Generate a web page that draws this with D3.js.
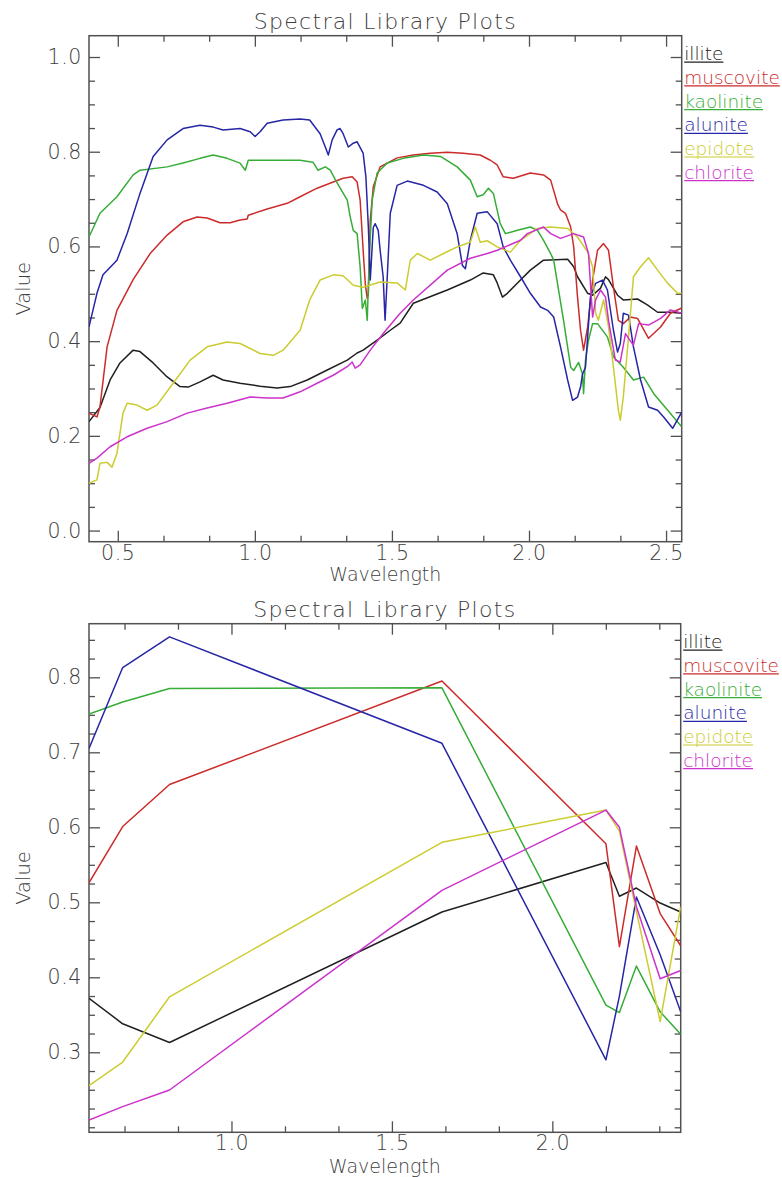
<!DOCTYPE html>
<html>
<head>
<meta charset="utf-8">
<script src="https://cdn.jsdelivr.net/npm/d3@7"></script>
<style>
  html, body { margin: 0; padding: 0; background: #fff; }
  svg { display: block; }
  text { font-family: "DejaVu Sans", "Liberation Sans", sans-serif; font-weight: 200; }
</style>
</head>
<body>
<svg id="chart" width="782" height="1177"></svg>
<script>
// ---------------- DATA ----------------
const chartTitle = "Spectral Library Plots";
const xAxisTitle = "Wavelength";
const yAxisTitle = "Value";
const seriesNames = ["illite", "muscovite", "kaolinite", "alunite", "epidote", "chlorite"];
const seriesColors = ["#202020", "#cc2b2b", "#36ad36", "#2626a6", "#cccc30", "#cc32cc"];

// Top panel tick labels
const topXTicks = [0.5, 1.0, 1.5, 2.0, 2.5];
const topYTicks = [0.0, 0.2, 0.4, 0.6, 0.8, 1.0];
// Bottom panel tick labels
const botXTicks = [1.0, 1.5, 2.0];
const botYTicks = [0.3, 0.4, 0.5, 0.6, 0.7, 0.8];

// Full-resolution library spectra: [wavelength, value]
const illiteFull = [[0.395,0.230],[0.435,0.260],[0.472,0.318],[0.508,0.354],[0.556,0.381],[0.581,0.378],[0.629,0.354],[0.679,0.325],[0.727,0.304],[0.757,0.303],[0.800,0.314],[0.848,0.328],[0.884,0.318],[0.946,0.311],[1.019,0.305],[1.081,0.301],[1.129,0.304],[1.191,0.318],[1.264,0.339],[1.337,0.360],[1.373,0.375],[1.395,0.381],[1.446,0.402],[1.494,0.423],[1.530,0.438],[1.578,0.480],[1.702,0.508],[1.786,0.529],[1.833,0.544],[1.870,0.540],[1.884,0.523],[1.903,0.493],[1.921,0.501],[1.958,0.523],[2.005,0.550],[2.053,0.571],[2.141,0.573],[2.163,0.557],[2.177,0.536],[2.214,0.501],[2.232,0.497],[2.261,0.512],[2.279,0.536],[2.290,0.530],[2.323,0.497],[2.344,0.487],[2.396,0.489],[2.433,0.476],[2.469,0.461],[2.516,0.461],[2.557,0.459]];
const muscoviteFull = [[0.395,0.248],[0.424,0.240],[0.435,0.261],[0.461,0.388],[0.497,0.465],[0.556,0.530],[0.618,0.585],[0.680,0.624],[0.738,0.652],[0.789,0.662],[0.826,0.660],[0.873,0.650],[0.910,0.650],[0.946,0.656],[0.972,0.658],[0.976,0.666],[1.045,0.679],[1.118,0.691],[1.165,0.705],[1.227,0.723],[1.286,0.736],[1.322,0.744],[1.355,0.747],[1.373,0.736],[1.384,0.698],[1.395,0.592],[1.403,0.520],[1.410,0.490],[1.414,0.500],[1.421,0.656],[1.432,0.726],[1.457,0.768],[1.519,0.787],[1.578,0.793],[1.640,0.797],[1.702,0.799],[1.760,0.797],[1.822,0.793],[1.859,0.782],[1.884,0.772],[1.906,0.747],[1.943,0.744],[2.005,0.755],[2.053,0.751],[2.079,0.740],[2.104,0.690],[2.115,0.677],[2.133,0.670],[2.152,0.641],[2.163,0.599],[2.177,0.493],[2.188,0.423],[2.199,0.381],[2.214,0.430],[2.232,0.529],[2.250,0.592],[2.272,0.606],[2.290,0.592],[2.308,0.514],[2.326,0.444],[2.344,0.437],[2.370,0.451],[2.396,0.448],[2.436,0.406],[2.480,0.430],[2.516,0.459],[2.557,0.470]];
const kaoliniteFull = [[0.395,0.620],[0.435,0.670],[0.497,0.705],[0.556,0.751],[0.581,0.761],[0.680,0.768],[0.738,0.776],[0.800,0.786],[0.848,0.793],[0.899,0.786],[0.946,0.776],[0.965,0.761],[0.976,0.782],[1.045,0.782],[1.165,0.782],[1.212,0.778],[1.230,0.761],[1.257,0.768],[1.275,0.761],[1.300,0.734],[1.337,0.698],[1.348,0.662],[1.359,0.634],[1.373,0.627],[1.384,0.557],[1.392,0.469],[1.403,0.487],[1.410,0.444],[1.417,0.571],[1.428,0.698],[1.446,0.755],[1.483,0.776],[1.541,0.786],[1.615,0.793],[1.677,0.790],[1.738,0.768],[1.786,0.740],[1.811,0.705],[1.833,0.709],[1.852,0.723],[1.870,0.712],[1.895,0.648],[1.914,0.627],[1.958,0.634],[2.005,0.641],[2.031,0.634],[2.053,0.613],[2.079,0.585],[2.090,0.571],[2.126,0.444],[2.152,0.345],[2.163,0.338],[2.181,0.355],[2.195,0.331],[2.199,0.289],[2.206,0.360],[2.217,0.402],[2.232,0.437],[2.250,0.437],[2.286,0.409],[2.308,0.367],[2.344,0.345],[2.381,0.318],[2.418,0.324],[2.455,0.289],[2.506,0.254],[2.557,0.219]];
const aluniteFull = [[0.395,0.430],[0.424,0.501],[0.446,0.540],[0.497,0.571],[0.534,0.627],[0.581,0.712],[0.629,0.790],[0.680,0.825],[0.738,0.849],[0.800,0.856],[0.848,0.852],[0.884,0.846],[0.946,0.849],[0.983,0.842],[1.001,0.832],[1.019,0.842],[1.045,0.860],[1.103,0.867],[1.165,0.869],[1.200,0.867],[1.238,0.838],[1.257,0.810],[1.268,0.793],[1.282,0.825],[1.300,0.846],[1.311,0.849],[1.322,0.838],[1.341,0.810],[1.359,0.818],[1.373,0.821],[1.395,0.797],[1.405,0.747],[1.414,0.641],[1.421,0.529],[1.428,0.600],[1.432,0.640],[1.439,0.648],[1.450,0.634],[1.457,0.592],[1.468,0.536],[1.475,0.444],[1.483,0.536],[1.494,0.670],[1.519,0.729],[1.556,0.738],[1.615,0.729],[1.665,0.715],[1.702,0.690],[1.738,0.627],[1.757,0.560],[1.768,0.553],[1.786,0.613],[1.811,0.670],[1.848,0.673],[1.884,0.648],[1.906,0.599],[1.932,0.571],[1.969,0.536],[2.005,0.501],[2.042,0.472],[2.068,0.465],[2.090,0.451],[2.115,0.388],[2.141,0.318],[2.159,0.275],[2.177,0.282],[2.188,0.303],[2.195,0.330],[2.206,0.345],[2.224,0.493],[2.243,0.522],[2.268,0.529],[2.286,0.508],[2.308,0.423],[2.323,0.377],[2.333,0.395],[2.344,0.459],[2.363,0.455],[2.381,0.388],[2.407,0.318],[2.436,0.261],[2.469,0.254],[2.491,0.240],[2.524,0.216],[2.557,0.250]];
const epidoteFull = [[0.395,0.100],[0.424,0.107],[0.435,0.142],[0.461,0.144],[0.479,0.134],[0.497,0.163],[0.519,0.248],[0.534,0.269],[0.570,0.265],[0.607,0.254],[0.643,0.265],[0.702,0.311],[0.764,0.360],[0.826,0.388],[0.899,0.398],[0.946,0.395],[1.019,0.374],[1.067,0.370],[1.103,0.381],[1.165,0.423],[1.200,0.487],[1.238,0.529],[1.286,0.540],[1.322,0.538],[1.359,0.518],[1.395,0.514],[1.457,0.525],[1.519,0.523],[1.549,0.508],[1.567,0.571],[1.593,0.585],[1.640,0.571],[1.688,0.585],[1.738,0.599],[1.786,0.609],[1.804,0.641],[1.822,0.609],[1.848,0.612],[1.884,0.599],[1.932,0.588],[1.969,0.613],[2.031,0.638],[2.079,0.641],[2.141,0.638],[2.177,0.620],[2.214,0.588],[2.232,0.557],[2.243,0.459],[2.253,0.444],[2.272,0.487],[2.290,0.430],[2.308,0.345],[2.326,0.254],[2.333,0.233],[2.344,0.282],[2.363,0.409],[2.381,0.536],[2.407,0.557],[2.436,0.576],[2.469,0.550],[2.506,0.522],[2.542,0.501],[2.557,0.501]];
const chloriteFull = [[0.395,0.142],[0.424,0.153],[0.472,0.177],[0.534,0.198],[0.607,0.216],[0.680,0.230],[0.753,0.248],[0.826,0.259],[0.899,0.269],[0.983,0.282],[1.045,0.280],[1.103,0.280],[1.165,0.293],[1.227,0.311],[1.286,0.328],[1.337,0.346],[1.355,0.356],[1.366,0.343],[1.384,0.350],[1.421,0.381],[1.468,0.416],[1.530,0.459],[1.578,0.487],[1.702,0.550],[1.786,0.575],[1.848,0.585],[1.884,0.592],[1.969,0.613],[1.994,0.627],[2.053,0.641],[2.079,0.627],[2.115,0.617],[2.163,0.627],[2.199,0.620],[2.217,0.585],[2.232,0.451],[2.243,0.487],[2.261,0.508],[2.279,0.493],[2.290,0.444],[2.315,0.360],[2.333,0.356],[2.352,0.416],[2.370,0.400],[2.381,0.392],[2.400,0.437],[2.436,0.434],[2.480,0.448],[2.516,0.466],[2.557,0.459]];

// Resampled spectra (bottom panel)
const bandCenters = [0.556, 0.661, 0.807, 1.656, 2.167, 2.209, 2.262, 2.336, 2.400];
const illiteBands    = [0.372, 0.338, 0.313, 0.487, 0.553, 0.508, 0.519, 0.499, 0.487];
const muscoviteBands = [0.526, 0.601, 0.657, 0.795, 0.578, 0.441, 0.575, 0.485, 0.442];
const kaoliniteBands = [0.751, 0.767, 0.785, 0.786, 0.363, 0.353, 0.415, 0.354, 0.324];
const aluniteBands   = [0.705, 0.813, 0.854, 0.712, 0.290, 0.375, 0.507, 0.430, 0.354];
const epidoteBands   = [0.2555, 0.287, 0.374, 0.580, 0.623, 0.595, 0.488, 0.341, 0.494];
const chloriteBands  = [0.2097, 0.2275, 0.2497, 0.516, 0.623, 0.600, 0.494, 0.398, 0.409];

const fullSeries = [illiteFull, muscoviteFull, kaoliniteFull, aluniteFull, epidoteFull, chloriteFull];
const bandSeries = [illiteBands, muscoviteBands, kaoliniteBands, aluniteBands, epidoteBands, chloriteBands];

// ---------------- DRAWING ----------------
const svg = d3.select("#chart");
const axisColor = "#505050";
const textColor = "#404040";

function drawPanel(cfg) {
  const { left, right, top, bottom, xDomain, yDomain, xMajor, yMajor, xMinorStep, yMinorStep, series, id, xPad, yPad } = cfg;
  const x = d3.scaleLinear().domain(xDomain).range([left, right]);
  const y = d3.scaleLinear().domain(yDomain).range([bottom, top]);
  const g = svg.append("g");

  const inDom = (v, d) => v >= d[0] - 1e-9 && v <= d[1] + 1e-9;
  const xMinor = d3.range(0, 3.0001, xMinorStep).map(v => +v.toFixed(4)).filter(v => inDom(v, xDomain) && !xMajor.some(m => Math.abs(m - v) < 1e-6));
  const yMinor = d3.range(-0.1, 1.1, yMinorStep).map(v => +v.toFixed(4)).filter(v => inDom(v, yDomain) && !yMajor.some(m => Math.abs(m - v) < 1e-6));

  const majorLen = 11, minorLen = 6;
  const fmt = d3.format(".1f");

  function styleAxis(sel) {
    sel.select(".domain").remove();
    sel.selectAll(".tick line").attr("stroke", axisColor).attr("stroke-width", 1.3);
    sel.selectAll("text").attr("fill", textColor).style("font-size", "20.5px").style("letter-spacing", "0.6px");
  }

  // bottom
  g.append("g").attr("transform", `translate(0,${bottom})`)
    .call(d3.axisBottom(x).tickValues(xMajor).tickSize(-majorLen).tickPadding(xPad).tickFormat(fmt)).call(styleAxis);
  g.append("g").attr("transform", `translate(0,${bottom})`)
    .call(d3.axisBottom(x).tickValues(xMinor).tickSize(-minorLen).tickFormat("")).call(styleAxis);
  // top
  g.append("g").attr("transform", `translate(0,${top})`)
    .call(d3.axisTop(x).tickValues(xMajor).tickSize(-majorLen).tickFormat("")).call(styleAxis);
  g.append("g").attr("transform", `translate(0,${top})`)
    .call(d3.axisTop(x).tickValues(xMinor).tickSize(-minorLen).tickFormat("")).call(styleAxis);
  // left
  g.append("g").attr("transform", `translate(${left},0)`)
    .call(d3.axisLeft(y).tickValues(yMajor).tickSize(-majorLen).tickPadding(yPad).tickFormat(fmt)).call(styleAxis);
  g.append("g").attr("transform", `translate(${left},0)`)
    .call(d3.axisLeft(y).tickValues(yMinor).tickSize(-minorLen).tickFormat("")).call(styleAxis);
  // right
  g.append("g").attr("transform", `translate(${right},0)`)
    .call(d3.axisRight(y).tickValues(yMajor).tickSize(-majorLen).tickFormat("")).call(styleAxis);
  g.append("g").attr("transform", `translate(${right},0)`)
    .call(d3.axisRight(y).tickValues(yMinor).tickSize(-minorLen).tickFormat("")).call(styleAxis);

  // frame
  g.append("rect").attr("x", left).attr("y", top).attr("width", right - left).attr("height", bottom - top)
    .attr("fill", "none").attr("stroke", axisColor).attr("stroke-width", 1.5);

  // clip
  svg.append("clipPath").attr("id", id).append("rect")
    .attr("x", left).attr("y", top).attr("width", right - left).attr("height", bottom - top);

  const line = d3.line().x(d => x(d[0])).y(d => y(d[1]));
  const lg = g.append("g").attr("clip-path", `url(#${id})`);
  series.forEach((s, i) => {
    lg.append("path").datum(s).attr("d", line)
      .attr("fill", "none").attr("stroke", seriesColors[i]).attr("stroke-width", 1.5)
      .attr("stroke-linejoin", "round");
  });

  // title
  g.append("text").attr("x", (left + right) / 2).attr("y", top - 6.5)
    .attr("text-anchor", "middle").attr("fill", textColor)
    .style("font-size", "22px").style("letter-spacing", "1.3px").text(chartTitle);
  // x title
  g.append("text").attr("x", (left + right) / 2).attr("y", cfg.xTitleY)
    .attr("text-anchor", "middle").attr("fill", textColor)
    .style("font-size", "19px").text(xAxisTitle);
  // y title
  g.append("text").attr("transform", `translate(30,${(top + bottom) / 2}) rotate(-90)`)
    .attr("text-anchor", "middle").attr("fill", textColor)
    .style("font-size", "19.5px").text(yAxisTitle);

  // legend
  const legX = right + 2.5;
  seriesNames.forEach((name, i) => {
    const by = top + 24.5 + i * 23.7;
    const t = g.append("text").attr("x", legX).attr("y", by).attr("fill", seriesColors[i])
      .style("font-size", "18.5px").text(name);
    const w = t.node().getComputedTextLength();
    g.append("line").attr("x1", legX).attr("x2", legX + w).attr("y1", by + 2).attr("y2", by + 2)
      .attr("stroke", seriesColors[i]).attr("stroke-width", 1.2);
  });
}

drawPanel({
  id: "clipTop", left: 89, right: 681.7, top: 35.7, bottom: 541.7,
  xDomain: [0.395, 2.557], yDomain: [-0.0235, 1.045],
  xMajor: topXTicks, yMajor: topYTicks, xMinorStep: 1 / 6, yMinorStep: 0.05,
  series: fullSeries, xPad: 4, yPad: 7, xTitleY: 581
});

drawPanel({
  id: "clipBot", left: 89, right: 680.7, top: 623.7, bottom: 1132.3,
  xDomain: [0.556, 2.400], yDomain: [0.1933, 0.8715],
  xMajor: botXTicks, yMajor: botYTicks, xMinorStep: 1 / 6, yMinorStep: 0.025,
  series: bandSeries.map(vals => bandCenters.map((w, j) => [w, vals[j]])), xPad: 3, yPad: 7, xTitleY: 1173
});
</script>
</body>
</html>
